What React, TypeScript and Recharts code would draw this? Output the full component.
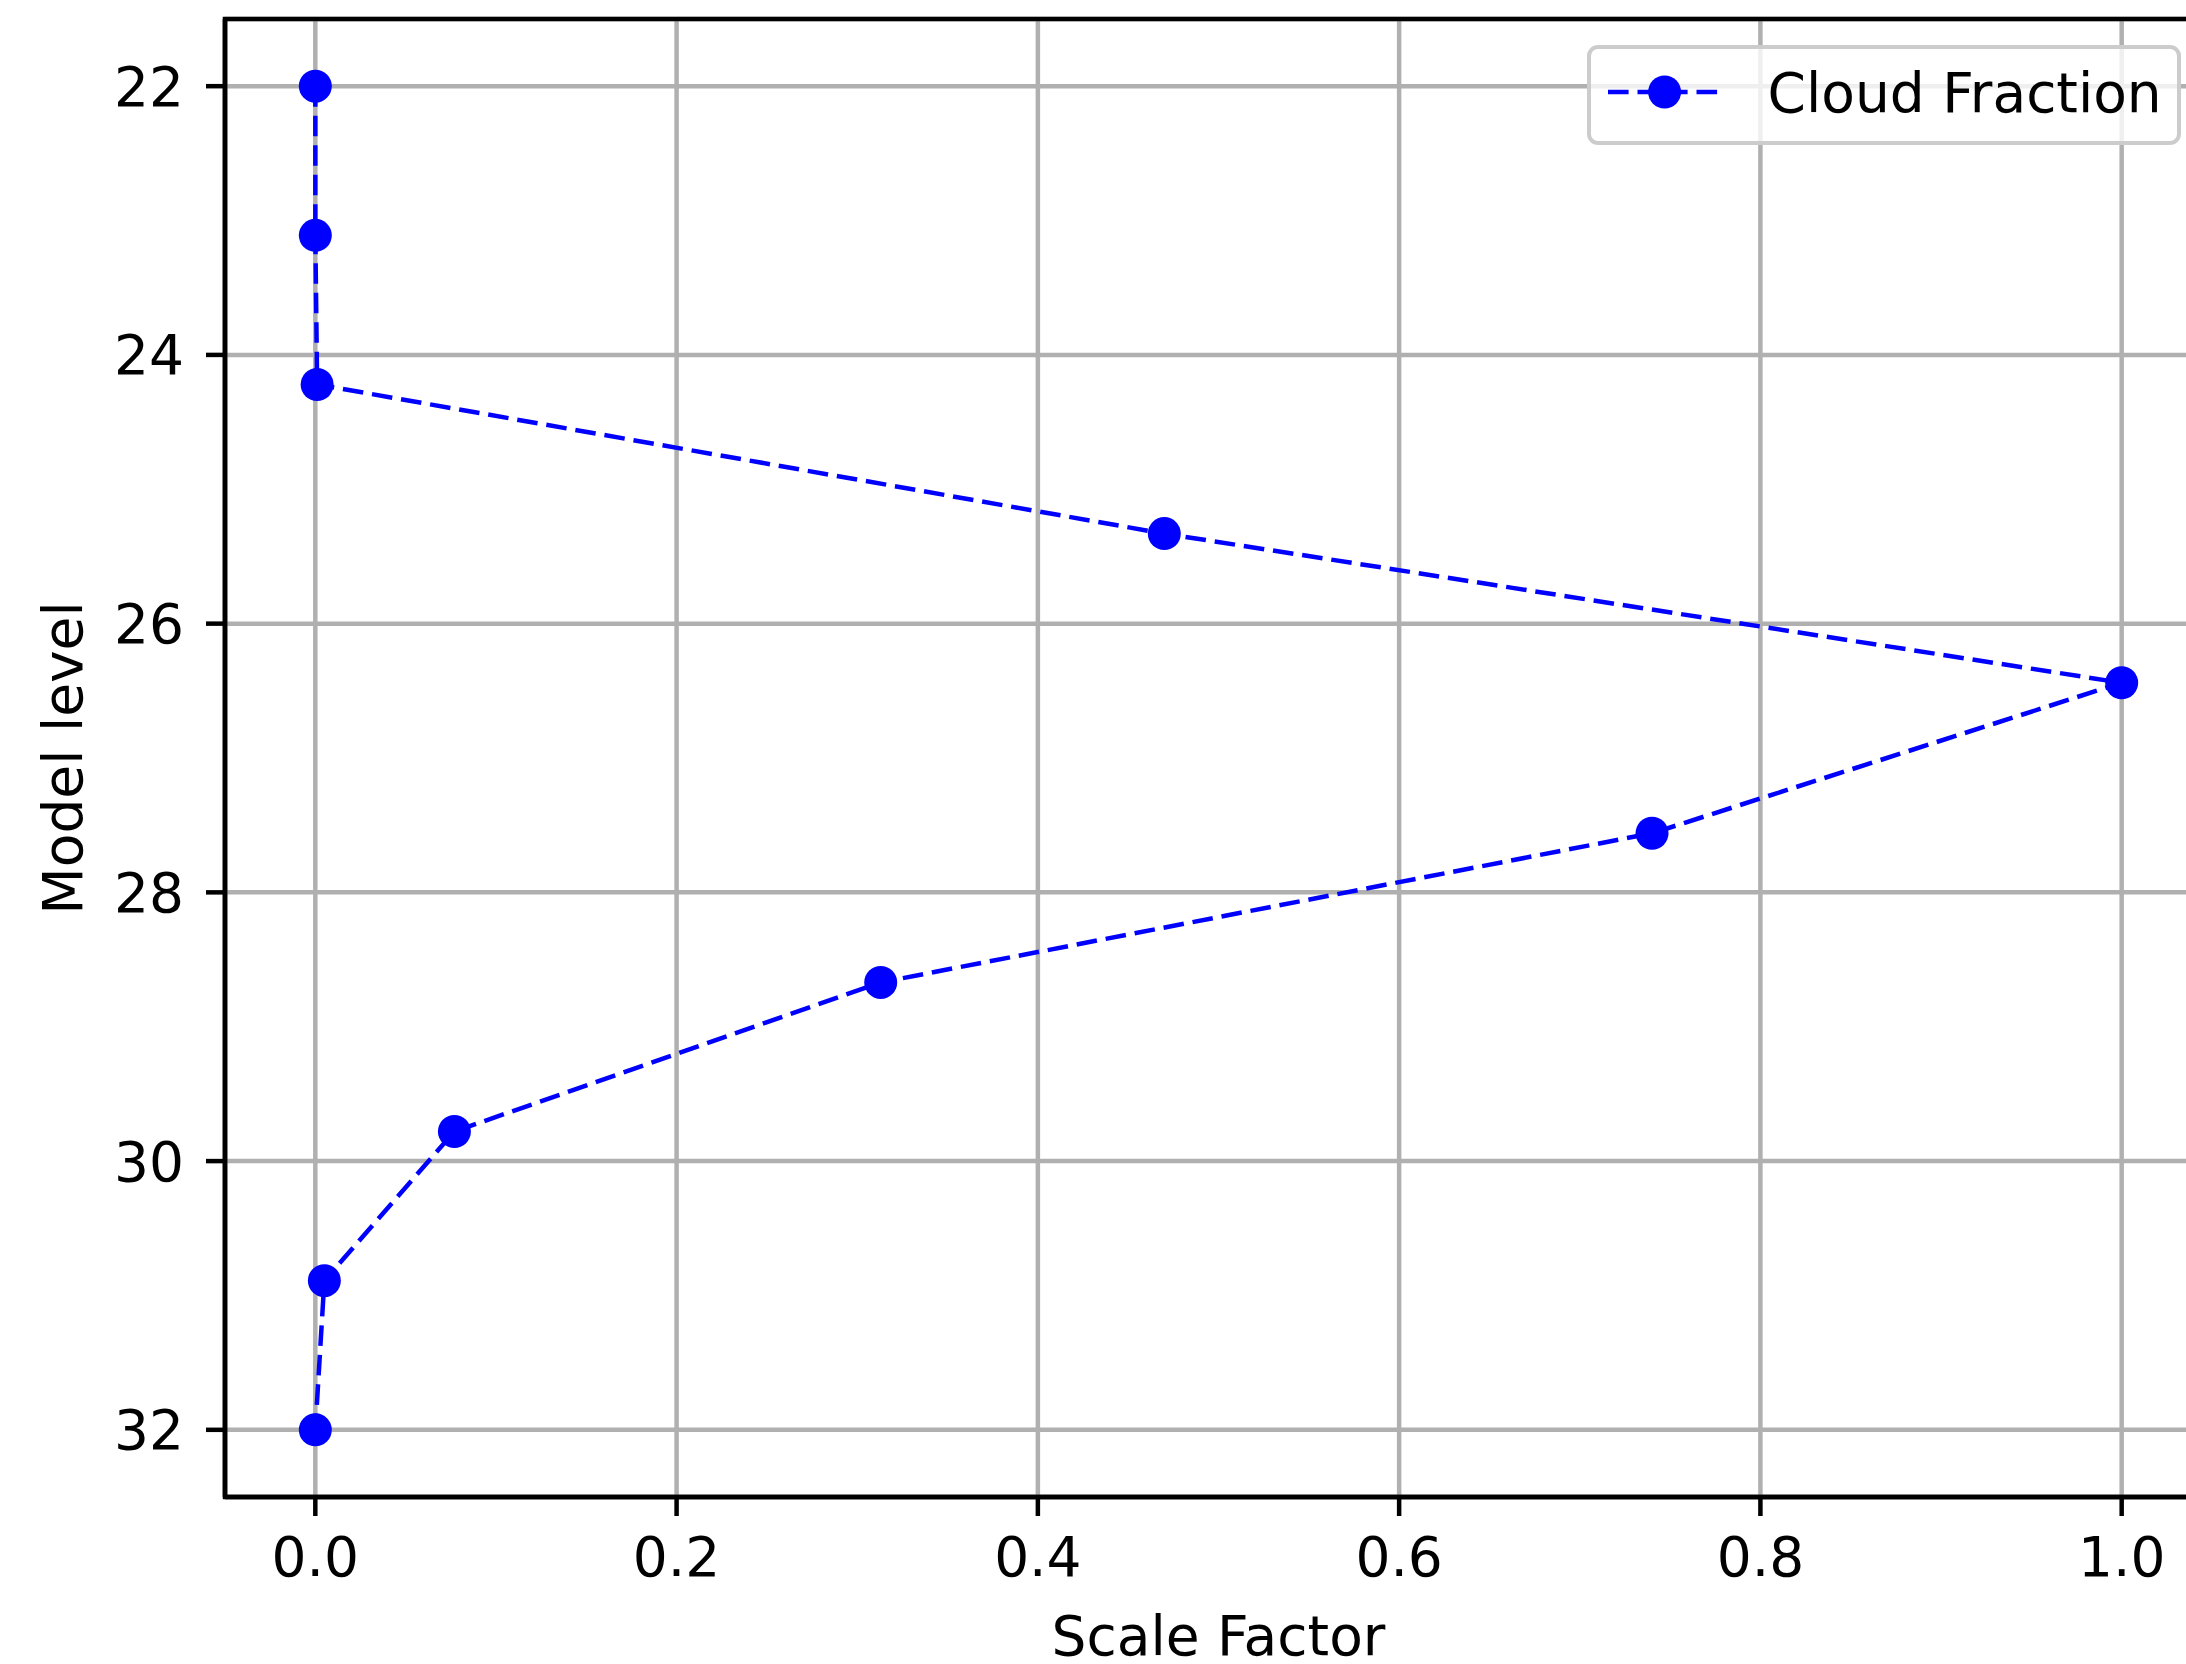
import React from 'react';
import { ScatterChart, Scatter, XAxis, YAxis, CartesianGrid, Legend, ReferenceArea } from 'recharts';

const modelLevels = [22, 23.11, 24.22, 25.33, 26.44, 27.56, 28.67, 29.78, 30.89, 32];
const cloudFraction = [0, 0, 0.001, 0.47, 1.0, 0.74, 0.313, 0.077, 0.005, 0];
const xTicks = [0, 0.2, 0.4, 0.6, 0.8, 1.0];
const yTicks = [22, 24, 26, 28, 30, 32];
const seriesName = 'Cloud Fraction';
const xLabel = 'Scale Factor';
const yLabel = 'Model level';

const data = modelLevels.map((lvl, i) => ({ x: cloudFraction[i], y: lvl }));

const FONT = 'DejaVu Sans';
const BLUE = '#0000ff';
const DASH = '20.6 8.9';

const XLabel = (props: any) => {
  const { viewBox } = props;
  return (
    <text x={viewBox.x + viewBox.width / 2} y={viewBox.y + 158} textAnchor="middle" fontSize={55} fontFamily={FONT} fill="#000">
      {xLabel}
    </text>
  );
};

const YLabel = (props: any) => {
  const { viewBox } = props;
  const cx = viewBox.x + 55;
  const cy = viewBox.y + viewBox.height / 2;
  return (
    <text x={cx} y={cy} transform={`rotate(-90 ${cx} ${cy})`} textAnchor="middle" dominantBaseline="central" fontSize={55} fontFamily={FONT} fill="#000">
      {yLabel}
    </text>
  );
};

const Dot = (props: any) => <circle cx={props.cx} cy={props.cy} r={16.5} fill={BLUE} />;

const LegendBox = () => (
  <div style={{ boxSizing: 'border-box', width: 594, height: 100, border: '4.5px solid #cccccc', borderRadius: 11, background: 'rgba(255,255,255,0.8)', position: 'relative' }}>
    <svg width={594} height={100} style={{ position: 'absolute', left: -4.5, top: -4.5, overflow: 'visible' }}>
      <line x1={21} y1={47} x2={133} y2={47} stroke={BLUE} strokeWidth={4.5} strokeDasharray={DASH} />
      <circle cx={77.6} cy={47} r={16.5} fill={BLUE} />
      <text x={180.6} y={66.7} fontSize={55} fontFamily={FONT} fill="#000">{seriesName}</text>
    </svg>
  </div>
);

const tickStyle = { fontSize: 55, fill: '#000', fontFamily: FONT };
const axisLineStyle = { stroke: '#000', strokeWidth: 4.5 };

export default function App() {
  return (
    <div style={{ position: 'absolute', left: 8, top: 8, width: 2178, height: 1656, overflow: 'hidden' }}>
      <ScatterChart width={2240} height={1656} margin={{ top: 11, right: 36, bottom: 0, left: 0 }}>
        <CartesianGrid stroke="#b0b0b0" strokeWidth={4.5} />
        <XAxis
          type="number"
          dataKey="x"
          domain={[-0.05, 1.05]}
          ticks={xTicks}
          allowDataOverflow
          height={167}
          tickSize={19}
          tickMargin={21}
          tickFormatter={(v: number) => v.toFixed(1)}
          tick={tickStyle}
          axisLine={axisLineStyle}
          tickLine={axisLineStyle}
          label={{ content: XLabel }}
        />
        <YAxis
          type="number"
          dataKey="y"
          domain={[21.5, 32.5]}
          reversed
          ticks={yTicks}
          allowDataOverflow
          width={217}
          tickSize={19}
          tickMargin={22}
          tick={tickStyle}
          axisLine={axisLineStyle}
          tickLine={axisLineStyle}
          label={{ content: YLabel }}
        />
        <Scatter
          name={seriesName}
          data={data}
          fill={BLUE}
          line={{ stroke: BLUE, strokeWidth: 4.5, strokeDasharray: DASH }}
          lineJointType="linear"
          shape={Dot}
          isAnimationActive={false}
        />
        <ReferenceArea x1={-0.05} x2={1.05} y1={21.5} y2={32.5} fill="none" stroke="#000" strokeWidth={4.5} />
        <Legend
          verticalAlign="middle"
          align="center"
          layout="horizontal"
          wrapperStyle={{ position: 'absolute', left: 1579, top: 37, width: 594, height: 100 }}
          content={() => <LegendBox />}
        />
      </ScatterChart>
    </div>
  );
}
